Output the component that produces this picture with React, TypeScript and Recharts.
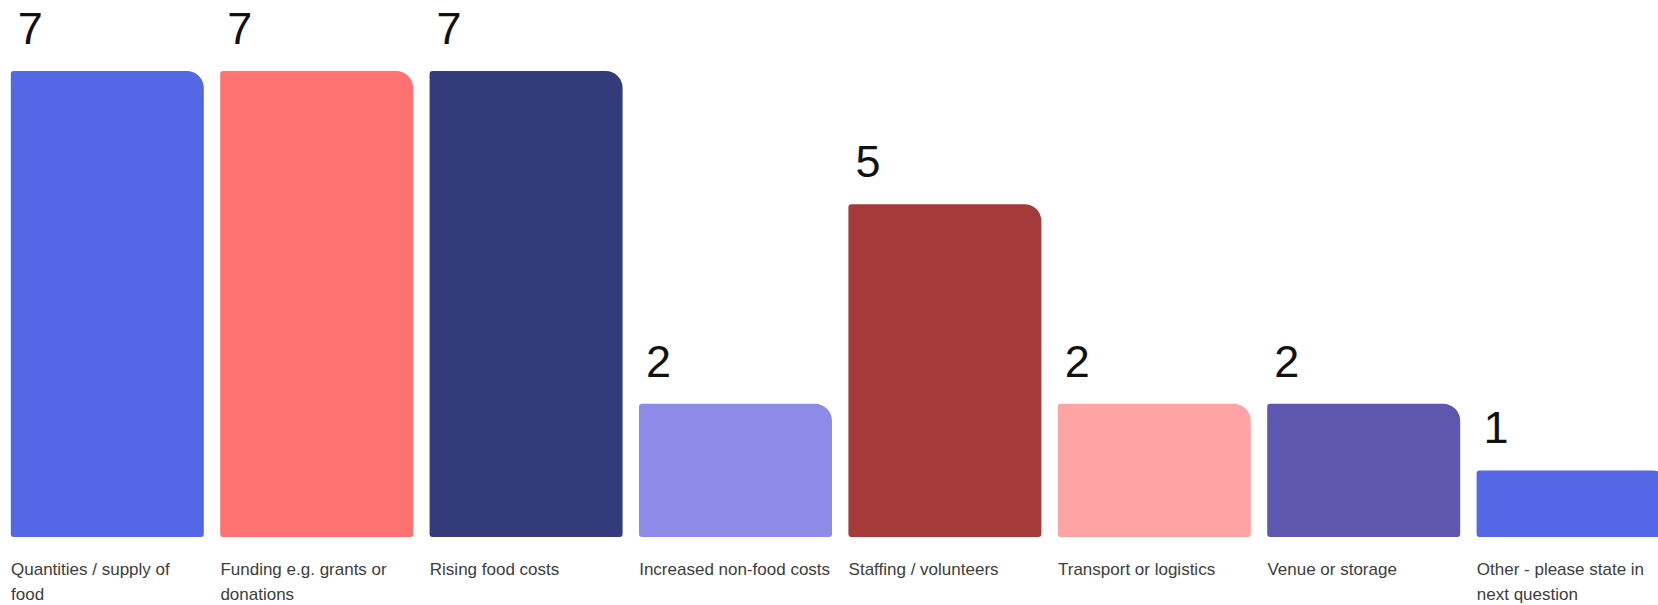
import React from "react";
import { BarChart, Bar, XAxis, YAxis, Cell, LabelList } from "recharts";

const categories = [
  "Quantities / supply of\nfood",
  "Funding e.g. grants or\ndonations",
  "Rising food costs",
  "Increased non-food costs",
  "Staffing / volunteers",
  "Transport or logistics",
  "Venue or storage",
  "Other - please state in\nnext question",
];
const counts = [7, 7, 7, 2, 5, 2, 2, 1];
const colors = [
  "#5468E6",
  "#FF7272",
  "#333B7B",
  "#8C8CE8",
  "#A53A3A",
  "#FFA4A4",
  "#5E57AF",
  "#5468E6",
];
const yTicks = [0, 7];

const data = categories.map((name, i) => ({ name, value: counts[i] }));

const BAR_W = 193;

const Tick = (props: any) => {
  const { x, y, payload } = props;
  const lines = String(payload.value).split("\n");
  const left = x - BAR_W / 2;
  return (
    <g>
      {lines.map((ln, i) => (
        <text
          key={i}
          x={left}
          y={y + 38 + i * 25}
          fontSize={17}
          fontFamily="'Liberation Sans', Arial, sans-serif"
          fill="#3d3d3d"
          textAnchor="start"
        >
          {ln}
        </text>
      ))}
    </g>
  );
};

const ValueLabel = (props: any) => {
  const { x, y, value } = props;
  return (
    <text
      x={x + 7}
      y={y - 27}
      fontSize={45}
      fontFamily="'Liberation Sans', Arial, sans-serif"
      fill="#111111"
      textAnchor="start"
    >
      {value}
    </text>
  );
};

export default function App() {
  return (
    <div
      style={{
        position: "absolute",
        left: 0,
        top: 0,
        width: 1658,
        height: 605,
        overflow: "hidden",
        background: "#ffffff",
      }}
    >
      <BarChart
        width={1678}
        height={605}
        data={data}
        margin={{ top: 71, right: 0, bottom: 0, left: 2.8 }}
        barSize={BAR_W}
      >
        <XAxis
          dataKey="name"
          axisLine={false}
          tickLine={false}
          tickSize={0}
          tickMargin={0}
          height={68}
          interval={0}
          tick={<Tick />}
        />
        <YAxis hide domain={[0, 7]} ticks={yTicks} />
        <Bar dataKey="value" isAnimationActive={false} radius={[3, 17, 3, 3]}>
          {data.map((d, i) => (
            <Cell key={i} fill={colors[i]} />
          ))}
          <LabelList dataKey="value" content={<ValueLabel />} />
        </Bar>
      </BarChart>
    </div>
  );
}
